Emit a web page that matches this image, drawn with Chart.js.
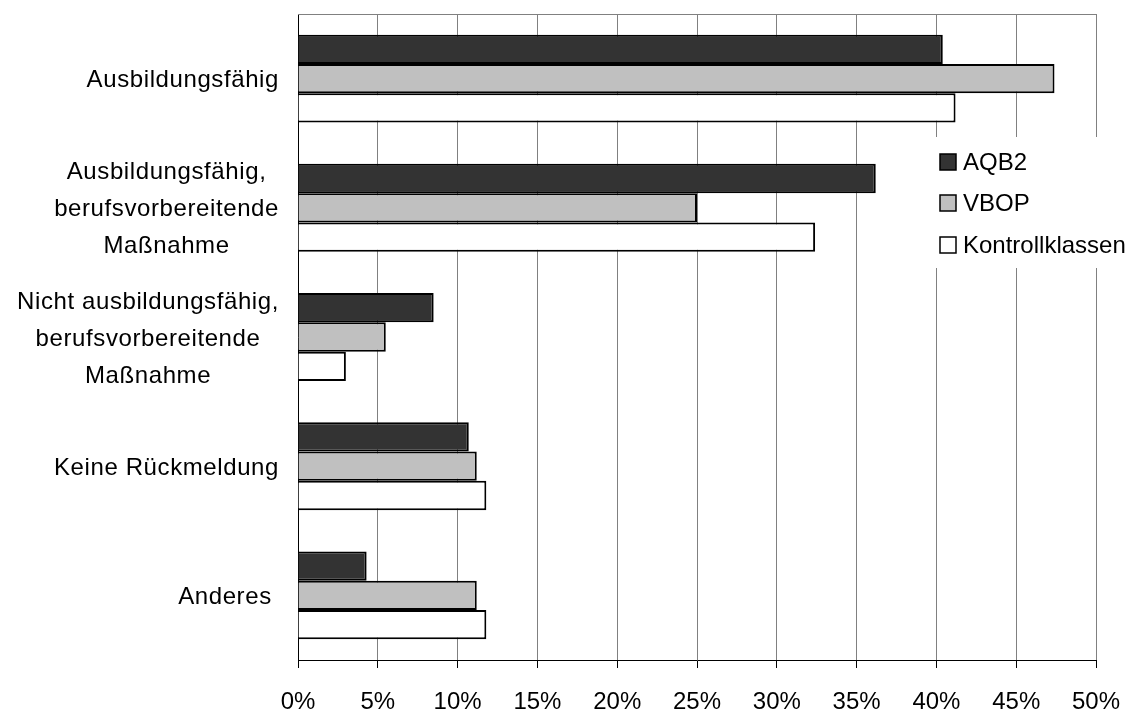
<!DOCTYPE html>
<html>
<head>
<meta charset="utf-8">
<script src="https://cdn.jsdelivr.net/npm/chart.js@4"></script>
<style>
  html, body { margin: 0; padding: 0; background: #fff; }
  #wrap { width: 1136px; height: 711px; }
</style>
</head>
<body>
<div id="wrap"><canvas id="bars"></canvas></div>
<script>
// categories (multi-line labels)
var categories = [
    ['Ausbildungsfähig'],
    ['Ausbildungsfähig,', 'berufsvorbereitende', 'Maßnahme'],
    ['Nicht ausbildungsfähig,', 'berufsvorbereitende', 'Maßnahme'],
    ['Keine Rückmeldung'],
    ['Anderes ']
];
var seriesNames = ['AQB2', 'VBOP', 'Kontrollklassen'];
var aqb2 = [40.4, 36.2, 8.5, 10.7, 4.3];
var vbop = [47.4, 25.0, 5.5, 11.2, 11.2];
var kontroll = [41.2, 32.4, 3.0, 11.8, 11.8];
var xTicks = [0, 5, 10, 15, 20, 25, 30, 35, 40, 45, 50];

var FONT = '"Liberation Sans", Arial, sans-serif';

// white box behind the legend, covers the gridlines
var legendBox = {
    id: 'legendBox',
    beforeDatasetsDraw: function (chart) {
        var c = chart.ctx;
        c.save();
        c.fillStyle = '#fff';
        c.fillRect(929, 137, 207, 131);
        c.restore();
    },
    afterDraw: function (chart) {
        var c = chart.ctx;
        var ys = [162, 203, 245];
        c.save();
        c.font = '24px ' + FONT;
        c.textBaseline = 'middle';
        c.textAlign = 'left';
        chart.data.datasets.forEach(function (ds, i) {
            c.fillStyle = ds.backgroundColor;
            c.fillRect(940, ys[i] - 8, 16, 16);
            c.lineWidth = 1.5;
            c.strokeStyle = '#000';
            c.strokeRect(940, ys[i] - 8, 16, 16);
            c.fillStyle = '#000';
            c.fillText(ds.label, 963, ys[i] + 1);
        });
        c.restore();
    }
};

// top border of the plot area
var topLine = {
    id: 'topLine',
    beforeDatasetsDraw: function (chart) {
        var a = chart.chartArea, c = chart.ctx;
        c.save();
        c.strokeStyle = '#808080';
        c.lineWidth = 1;
        c.beginPath();
        c.moveTo(a.left, a.top + 0.5);
        c.lineTo(a.right, a.top + 0.5);
        c.stroke();
        c.restore();
    }
};

// category labels: lines centred within a block, block right aligned
var catLabels = {
    id: 'catLabels',
    afterDraw: function (chart) {
        var c = chart.ctx, y = chart.scales.y;
        c.save();
        c.font = '24px ' + FONT;
        c.letterSpacing = '0.6px';
        c.fillStyle = '#000';
        c.textAlign = 'center';
        c.textBaseline = 'middle';
        categories.forEach(function (lines, i) {
            var w = 0;
            lines.forEach(function (l) { w = Math.max(w, c.measureText(l).width); });
            var cx = 279 - w / 2;
            var cy = y.getPixelForValue(i) + 2;
            lines.forEach(function (l, j) {
                c.fillText(l, cx, cy + (j - (lines.length - 1) / 2) * 37);
            });
        });
        c.restore();
    }
};

var ctx = document.getElementById('bars').getContext('2d');
var myChart = new Chart(ctx, {
    type: 'bar',
    data: {
        labels: categories,
        datasets: [{
            label: seriesNames[0],
            data: aqb2,
            backgroundColor: '#333333',
            borderColor: '#000',
            borderWidth: 2
        }, {
            label: seriesNames[1],
            data: vbop,
            backgroundColor: '#c0c0c0',
            borderColor: '#000',
            borderWidth: 2
        }, {
            label: seriesNames[2],
            data: kontroll,
            backgroundColor: '#ffffff',
            borderColor: '#000',
            borderWidth: 2
        }]
    },
    options: {
        indexAxis: 'y',
        responsive: true,
        maintainAspectRatio: false,
        animation: false,
        devicePixelRatio: 1,
        categoryPercentage: 0.68,
        barPercentage: 1.0,
        layout: { padding: { top: 14, right: 40, left: 0, bottom: 0 } },
        plugins: {
            legend: { display: false },
            tooltip: { enabled: false }
        },
        scales: {
            x: {
                min: 0,
                max: 50,
                afterFit: function (s) { s.height = 51; },
                afterBuildTicks: function (s) {
                    s.ticks = xTicks.map(function (v) { return { value: v }; });
                },
                grid: {
                    color: '#808080',
                    lineWidth: 1,
                    tickColor: '#000',
                    tickLength: 8
                },
                border: { color: '#000', width: 1 },
                ticks: {
                    color: '#000',
                    padding: 14,
                    maxRotation: 0,
                    font: { family: FONT, size: 24, lineHeight: 1.7 },
                    callback: function (v) { return v + '%'; }
                }
            },
            y: {
                afterFit: function (s) { s.width = 298; },
                grid: { display: false },
                border: { color: '#000', width: 1 },
                ticks: { display: false }
            }
        }
    },
    plugins: [legendBox, topLine, catLabels]
});
</script>
</body>
</html>
